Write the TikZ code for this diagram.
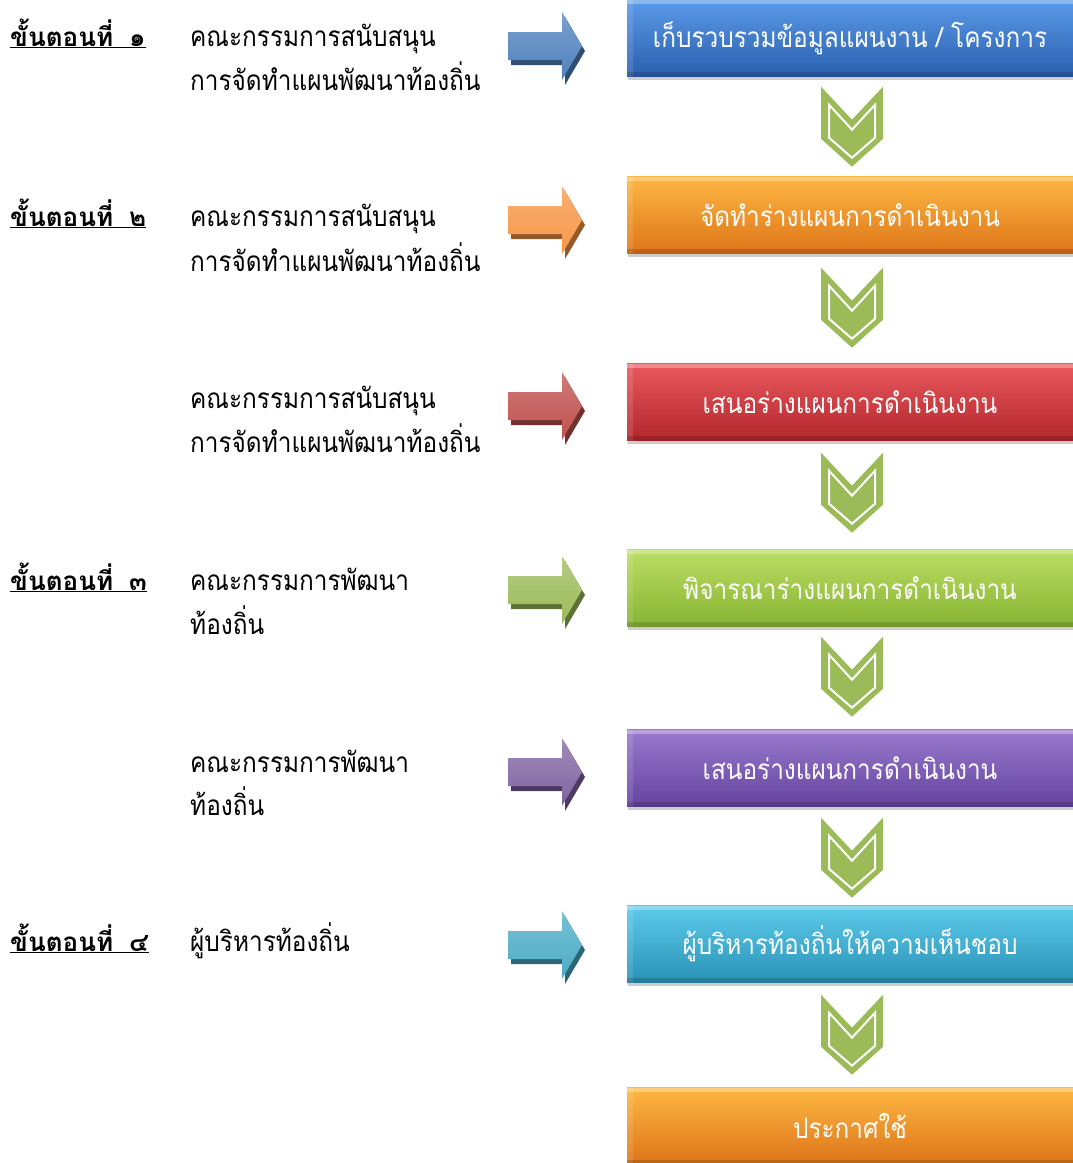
\documentclass[tikz,border=0pt]{standalone}
\usepackage{fontspec}
\setmainfont{Loma}[Script=Thai]
\newfontfamily\narrowthai[Script=Thai,FakeStretch=0.87]{Loma}
\usetikzlibrary{calc,shadows}
\definecolor{cblueT}{HTML}{5A9AE8}\definecolor{cblueB}{HTML}{2A5FAE}
\definecolor{corgT}{HTML}{FDB843}\definecolor{corgB}{HTML}{DE7418}
\definecolor{credT}{HTML}{E9595E}\definecolor{credB}{HTML}{B3262C}
\definecolor{cgrnT}{HTML}{BCDD64}\definecolor{cgrnB}{HTML}{86B431}
\definecolor{cpurT}{HTML}{9A7ACD}\definecolor{cpurB}{HTML}{6443A0}
\definecolor{ccyaT}{HTML}{5ECBEB}\definecolor{ccyaB}{HTML}{2892B6}
\definecolor{ablue}{HTML}{4F81BD}\definecolor{aorg}{HTML}{F79646}
\definecolor{ared}{HTML}{C0504D}\definecolor{agrn}{HTML}{9BBB59}
\definecolor{apur}{HTML}{8064A2}\definecolor{acya}{HTML}{4BACC6}
\definecolor{chev}{HTML}{9BBB59}
\begin{document}
\begin{tikzpicture}[x=1pt,y=-1pt,
  stepbox/.style={rectangle, minimum width=446pt, minimum height=77pt, inner sep=0pt,
    text=white, font=\narrowthai\fontsize{28}{30}\selectfont,
    drop shadow={shadow xshift=1pt, shadow yshift=-3pt, opacity=0.4},
    path picture={\fill[white,opacity=0.3] (path picture bounding box.north west) rectangle ([yshift=-4pt]path picture bounding box.north east);
                  \fill[white,opacity=0.12] (path picture bounding box.north west) rectangle ([xshift=6pt]path picture bounding box.south west);
                  \fill[black,opacity=0.15] (path picture bounding box.south west) rectangle ([yshift=5pt]path picture bounding box.south east);}},
  lbl/.style={anchor=base west, inner sep=0pt, font=\narrowthai\fontsize{28}{30}\selectfont},
  steplbl/.style={anchor=base west, inner sep=0pt, font=\fontsize{26}{30}\selectfont\bfseries},
  pics/rarrow/.style={code={
    \fill[#1!60!black] (-34,-9) -- (20,-9) -- (20,-29) -- (40,5) -- (20,39) -- (20,19) -- (-34,19) -- cycle;
    \shade[top color=#1!75!white, bottom color=#1] (-37,-14) -- (17,-14) -- (17,-34) -- (37,0) -- (17,34) -- (17,14) -- (-37,14) -- cycle;
  }},
  pics/chevron/.style={code={
    \fill[chev] (-31,0) -- (0,33) -- (31,0) -- (31,52) -- (0,80) -- (-31,52) -- cycle;
    \draw[white, line width=2pt, line join=miter] (-23,18) -- (0,43) -- (23,18) -- (23,51) -- (0,71) -- (-23,51) -- cycle;
  }}
]
\useasboundingbox (0,0) rectangle (1073,1163);
% boxes
\node[stepbox, top color=cblueT, bottom color=cblueB] (b1) at (850,38) {เก็บรวบรวมข้อมูลแผนงาน / โครงการ};
\node[stepbox, top color=corgT, bottom color=corgB] (b2) at (850,215) {จัดทำร่างแผนการดำเนินงาน};
\node[stepbox, top color=credT, bottom color=credB] (b3) at (850,402) {เสนอร่างแผนการดำเนินงาน};
\node[stepbox, top color=cgrnT, bottom color=cgrnB] (b4) at (850,588) {พิจารณาร่างแผนการดำเนินงาน};
\node[stepbox, top color=cpurT, bottom color=cpurB] (b5) at (850,768) {เสนอร่างแผนการดำเนินงาน};
\node[stepbox, top color=ccyaT, bottom color=ccyaB] (b6) at (850,944) {ผู้บริหารท้องถิ่นให้ความเห็นชอบ};
\node[stepbox, top color=corgT, bottom color=corgB] (b7) at (850,1126) {ประกาศใช้};
% chevrons
\pic at ($(b1.south)+(2,10)$) {chevron};
\pic at ($(b2.south)+(2,14)$) {chevron};
\pic at ($(b3.south)+(2,12)$) {chevron};
\pic at ($(b4.south)+(2,10)$) {chevron};
\pic at ($(b5.south)+(2,11)$) {chevron};
\pic at ($(b6.south)+(2,12)$) {chevron};
% arrows
\pic at (545,46) {rarrow=ablue};
\pic at (545,220) {rarrow=aorg};
\pic at (545,406) {rarrow=ared};
\pic at (545,590) {rarrow=agrn};
\pic at (545,772) {rarrow=apur};
\pic at (545,945) {rarrow=acya};
% left labels
\node[steplbl] (s1) at (10,46) {\underline{ขั้นตอนที่\hspace{16pt}๑}};
\node[lbl] (t1a) at (190,46) {คณะกรรมการสนับสนุน};
\node[lbl] (t1b) at (190,90) {การจัดทำแผนพัฒนาท้องถิ่น};
\node[steplbl] (s2) at (10,226) {\underline{ขั้นตอนที่\hspace{16pt}๒}};
\node[lbl] (t2a) at (190,226) {คณะกรรมการสนับสนุน};
\node[lbl] (t2b) at (190,271) {การจัดทำแผนพัฒนาท้องถิ่น};
\node[lbl] (t3a) at (190,408) {คณะกรรมการสนับสนุน};
\node[lbl] (t3b) at (190,452) {การจัดทำแผนพัฒนาท้องถิ่น};
\node[steplbl] (s3) at (10,590) {\underline{ขั้นตอนที่\hspace{16pt}๓}};
\node[lbl] (t4a) at (190,590) {คณะกรรมการพัฒนา};
\node[lbl] (t4b) at (190,634) {ท้องถิ่น};
\node[lbl] (t5a) at (190,772) {คณะกรรมการพัฒนา};
\node[lbl] (t5b) at (190,815) {ท้องถิ่น};
\node[steplbl] (s4) at (10,951) {\underline{ขั้นตอนที่\hspace{16pt}๔}};
\node[lbl] (t6a) at (190,951) {ผู้บริหารท้องถิ่น};
\end{tikzpicture}
\end{document}
